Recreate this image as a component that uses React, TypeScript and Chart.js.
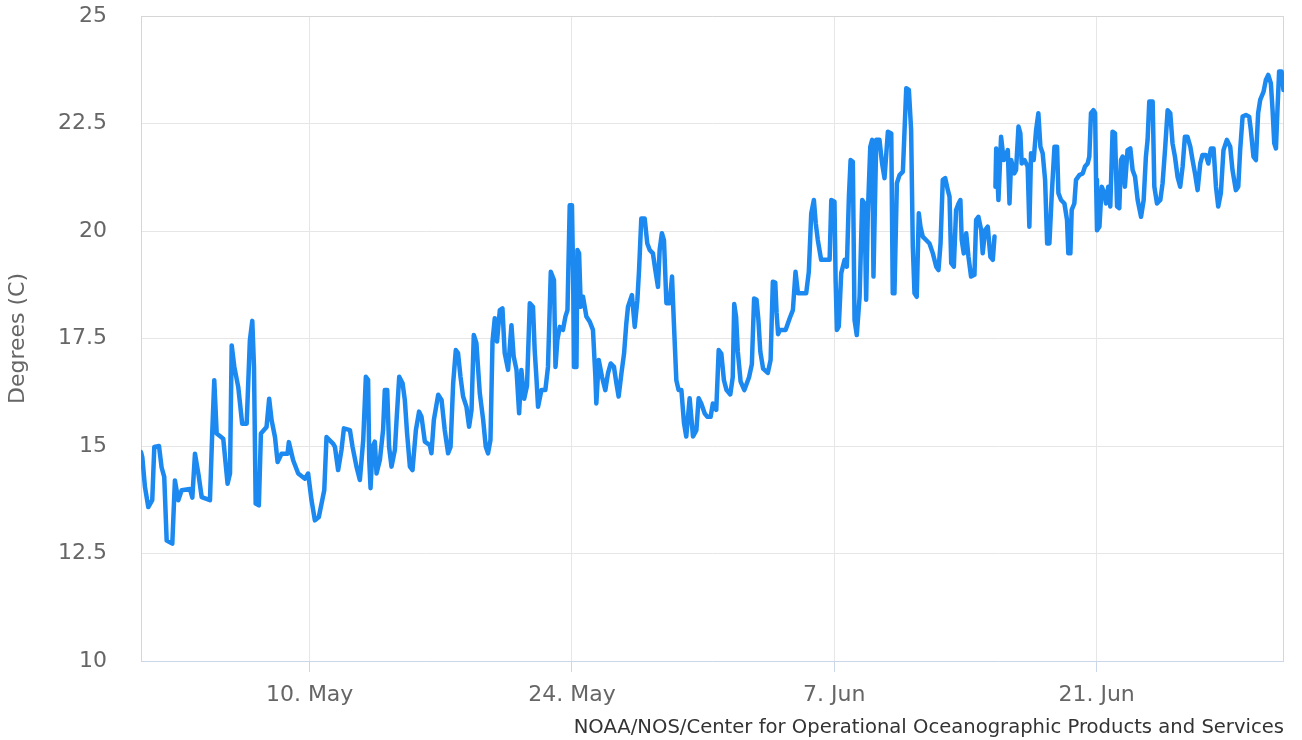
import { useEffect, useRef } from "react";
import { Chart, registerables } from "chart.js";

Chart.register(...registerables);

// Days since 1 May (00:00)
const dayOffsets: number[] = [
  0.0, 0.07, 0.21, 0.39, 0.6, 0.71, 0.96, 1.1, 1.24, 1.37, 1.67, 1.81, 1.99, 2.17, 2.61, 2.74, 2.88, 3.06, 3.24, 3.68,
  3.8, 3.91, 4.04, 4.39, 4.62, 4.75, 4.84, 4.98, 5.19, 5.4, 5.64, 5.81, 5.94, 6.03, 6.12, 6.29, 6.4, 6.7, 6.84, 6.97,
  7.15, 7.29, 7.5, 7.82, 7.89, 8.12, 8.39, 8.75, 8.92, 9.1, 9.28, 9.49, 9.78, 9.9, 10.26,
  10.35, 10.52, 10.7, 10.83, 11.15, 11.29, 11.5, 11.68, 11.86, 12.0, 12.12, 12.18, 12.25, 12.36, 12.48, 12.57, 12.75,
  12.92, 13.01, 13.14, 13.24, 13.37, 13.55, 13.64, 13.78, 13.96, 14.08, 14.2, 14.35, 14.49, 14.67, 14.84, 14.97, 15.15,
  15.41, 15.5, 15.63, 15.86, 16.04, 16.21, 16.39, 16.52, 16.66, 16.8, 16.92, 17.05, 17.19, 17.37, 17.51, 17.64, 17.76,
  17.9, 18.08, 18.26, 18.4, 18.52, 18.65, 18.76, 18.88, 19.0, 19.15, 19.29, 19.41, 19.59, 19.77, 19.89, 20.04, 20.18,
  20.3, 20.45, 20.6, 20.75, 20.92, 21.01, 21.1, 21.19, 21.37, 21.58, 21.72, 21.87, 22.04, 22.12, 22.22, 22.35, 22.52,
  22.65, 22.76, 22.88, 23.0, 23.06, 23.11, 23.24, 23.29, 23.38, 23.47, 23.59, 23.77, 23.95, 24.12, 24.25, 24.3, 24.43,
  24.6, 24.78, 24.92, 25.07, 25.24, 25.37, 25.49, 25.64, 25.78, 25.9, 25.99, 26.2, 26.35, 26.49, 26.58, 26.7, 26.88,
  27.02, 27.15, 27.32, 27.45, 27.59, 27.68, 27.8, 27.91, 28.04, 28.21, 28.34, 28.44, 28.57, 28.69, 28.84, 28.98, 29.1,
  29.28, 29.46, 29.64, 29.76, 29.9, 30.08, 30.22, 30.4, 30.52, 30.7, 30.83, 30.97, 31.11,
  31.25, 31.45, 31.58, 31.66, 31.76, 31.85, 32.0, 32.2, 32.45, 32.6, 32.72, 32.85, 32.95, 33.05, 33.2, 33.45, 33.6,
  33.72, 33.85, 33.92, 34.0, 34.1, 34.4, 34.62, 34.79, 34.93, 35.06, 35.5, 35.64, 35.77, 35.91, 36.01, 36.12, 36.3,
  36.75, 36.84, 37.01, 37.07, 37.14, 37.24, 37.37, 37.55, 37.67, 37.78, 37.87, 37.99, 38.08, 38.2, 38.35, 38.49, 38.61,
  38.7, 38.79, 38.92, 39.02, 39.09, 39.24, 39.41, 39.55, 39.68, 39.86, 40.04, 40.12, 40.21, 40.34, 40.48, 40.66, 40.75,
  40.84, 40.98, 41.1, 41.19, 41.28, 41.4, 41.51,
  41.6, 41.72, 41.9, 42.08, 42.26, 42.44, 42.56, 42.67, 42.79, 42.92, 43.06, 43.15, 43.24, 43.38, 43.5, 43.63, 43.73,
  43.8, 43.91, 44.04, 44.16, 44.3, 44.48, 44.57, 44.69, 44.84, 44.92, 45.05, 45.19, 45.33, 45.46, 45.55, 45.57,
  45.6, 45.64, 45.76, 45.9, 46.04, 46.26, 46.35, 46.44, 46.61, 46.7, 46.83, 46.93, 47.0, 47.15, 47.32, 47.41, 47.5,
  47.64, 47.77, 47.89, 48.0, 48.12, 48.25, 48.36, 48.48, 48.6, 48.75, 48.89, 48.96, 49.1, 49.28, 49.42, 49.49, 49.6,
  49.67, 49.81, 49.9, 50.08, 50.26, 50.38, 50.52, 50.61, 50.7, 50.83, 50.92, 50.97, 51.02, 51.15, 51.27, 51.41,
  51.5, 51.62, 51.73, 51.85, 51.98, 52.09, 52.21, 52.3, 52.39, 52.51, 52.65, 52.8, 52.92, 53.05, 53.19, 53.37, 53.51,
  53.63, 53.72, 53.81, 53.99, 54.08, 54.22, 54.4, 54.52, 54.65, 54.79, 54.93, 55.05, 55.18, 55.32, 55.46, 55.59, 55.71,
  55.85, 56.0, 56.12, 56.25, 56.39, 56.53, 56.65, 56.83, 56.96, 57.1, 57.24, 57.37, 57.49, 57.63, 57.77, 57.95, 58.13,
  58.25, 58.43, 58.56, 58.66, 58.79, 58.97, 59.14, 59.23, 59.37, 59.5, 59.62, 59.73, 59.91, 60.03, 60.16, 60.3, 60.39,
  60.48, 60.57, 60.65, 60.74, 60.87, 60.97,
];

// Water temperature, degrees C (null = missing data)
const temps: (number | null)[] = [
  14.86, 14.74, 14.05, 13.58, 13.74, 14.98, 15.0, 14.5, 14.28, 12.8, 12.73, 14.2, 13.74, 13.97, 14.0, 13.8, 14.82, 14.36, 13.81, 13.74,
  15.29, 16.53, 15.29, 15.17, 14.12, 14.36, 17.34, 16.84, 16.37, 15.52, 15.52, 17.46, 17.91, 16.84, 13.66, 13.62, 15.29, 15.44, 16.1, 15.6,
  15.21, 14.63, 14.82, 14.82, 15.09, 14.67, 14.36, 14.24, 14.36, 13.74, 13.27, 13.35, 13.97, 15.21, 15.05,
  14.98, 14.44, 14.91, 15.41, 15.37, 14.98, 14.52, 14.21, 15.14, 16.61, 16.54, 14.68, 14.02, 14.98, 15.1, 14.36, 14.68,
  15.37, 16.3, 16.3, 14.98, 14.52, 14.91, 15.61, 16.61, 16.46, 16.07, 15.3, 14.52, 14.44, 15.37, 15.8, 15.68, 15.1,
  15.02, 14.83, 15.61, 16.19, 16.07, 15.37, 14.83, 14.98, 16.46, 17.23, 17.16, 16.61, 16.15, 15.91, 15.45, 15.84, 17.58,
  17.39, 16.23, 15.61, 14.98, 14.83, 15.14, 17.43, 17.97, 17.43, 18.16, 18.2, 17.16, 16.77, 17.81, 17.08, 16.77, 15.76,
  16.77, 16.1, 16.4, 18.32, 18.24, 17.23, 16.61, 15.91, 16.3, 16.3, 16.84, 19.05, 18.86, 16.84, 17.46, 17.77, 17.7,
  18.01, 18.16, 20.6, 20.6, 19.02, 16.84, 16.84, 19.56, 19.48, 18.24, 18.47, 18.01, 17.89, 17.7, 16.61, 15.99, 17.0,
  16.61, 16.3, 16.69, 16.92, 16.84, 16.46, 16.15, 16.69, 17.15, 17.85, 18.24, 18.51, 17.77, 18.39, 19.09, 20.29, 20.29,
  19.71, 19.56, 19.48, 19.09, 18.7, 19.56, 19.95, 19.79, 18.32, 18.32, 18.94, 17.85, 16.53, 16.3, 16.3, 15.53, 15.22,
  16.11, 15.22, 15.37, 16.11, 15.99, 15.76, 15.68, 15.68, 15.99, 15.84, 17.23, 17.15, 16.53,
  16.3, 16.2, 16.6, 18.3, 18.0, 17.2, 16.5, 16.3, 16.6, 16.9, 18.43, 18.4, 17.93, 17.2, 16.8, 16.7, 17.0,
  18.82, 18.8, 18.1, 17.6, 17.7, 17.7, 17.97, 18.16, 19.05, 18.55, 18.55, 19.05, 20.41, 20.72, 20.18, 19.79, 19.33,
  19.33, 20.72, 20.68, 18.86, 17.7, 17.78, 19.02, 19.33, 19.17, 20.8, 21.65, 21.61, 17.93, 17.58, 18.47, 20.72, 20.64,
  18.4, 20.41, 21.96, 22.12, 18.94, 22.12, 22.12, 21.57, 21.23, 22.31, 22.27, 18.55, 18.55, 21.11, 21.3, 21.38, 22.35,
  23.32, 23.28, 22.35, 19.64, 18.55, 18.47, 20.41,
  20.1, 19.87, 19.79, 19.71, 19.48, 19.17, 19.09, 19.71, 21.19, 21.23, 20.95, 20.8, 19.25, 19.17, 20.49, 20.64, 20.72,
  19.79, 19.48, 19.95, 19.4, 18.94, 18.98, 20.26, 20.33, 20.02, 19.48, 20.02, 20.1, 19.4, 19.33, 19.87, null,
  21.03, 21.92, 20.72, 22.19, 21.65, 21.88, 20.64, 21.65, 21.34, 21.42, 22.43, 22.27, 21.57, 21.65, 21.5, 20.1, 21.81,
  21.65, 22.35, 22.74, 21.96, 21.81, 21.19, 19.71, 19.71, 20.8, 21.96, 21.96, 20.88, 20.72, 20.64, 20.26, 19.48, 19.48,
  20.49, 20.64, 21.19, 21.3, 21.34, 21.5, 21.57, 21.73, 22.74, 22.81, 22.74, 21.19, 20.02, 20.1, 21.03, 20.88,
  20.64, 21.03, 20.57, 22.31, 22.27, 20.57, 20.53, 21.65, 21.73, 21.03, 21.88, 21.92, 21.42, 21.26, 20.72, 20.33, 20.72,
  21.73, 22.12, 23.01, 23.01, 21.03, 20.64, 20.72, 21.11, 21.88, 22.81, 22.74, 22.04, 21.73, 21.26, 21.03, 21.5, 22.19,
  22.19, 21.96, 21.65, 21.34, 20.95, 21.57, 21.77, 21.77, 21.57, 21.92, 21.92, 21.03, 20.57, 20.88, 21.88, 22.12, 21.96,
  21.42, 20.95, 21.03, 21.88, 22.66, 22.7, 22.66, 22.35, 21.73, 21.65, 22.74, 23.05, 23.24, 23.51, 23.63, 23.43, 22.81,
  22.04, 21.92, 22.81, 23.71, 23.71, 23.28,
];

const xTickDays = [9, 23, 37, 51];
const xTickLabels = ["10. May", "24. May", "7. Jun", "21. Jun"];
const yTickValues = [10, 12.5, 15, 17.5, 20, 22.5, 25];
const yAxisTitle = "Degrees (C)";
const creditsText = "NOAA/NOS/Center for Operational Oceanographic Products and Services";

export default function App() {
  const ref = useRef<HTMLCanvasElement>(null);

  useEffect(() => {
    const points = dayOffsets.map((d, i) => ({ x: d, y: temps[i] }));

    const framePlugin = {
      id: "frame",
      beforeDatasetsDraw(chart: any) {
        const { ctx, chartArea } = chart;
        const { left, right, top, bottom } = chartArea;
        ctx.save();
        ctx.lineWidth = 1;
        ctx.strokeStyle = "#d6d6d6";
        ctx.beginPath();
        ctx.moveTo(left + 0.5, top);
        ctx.lineTo(left + 0.5, bottom);
        ctx.moveTo(right - 0.5, top);
        ctx.lineTo(right - 0.5, bottom);
        ctx.moveTo(left, top + 0.5);
        ctx.lineTo(right, top + 0.5);
        ctx.stroke();
        ctx.strokeStyle = "#ccd6eb";
        ctx.beginPath();
        ctx.moveTo(left, bottom + 0.5);
        ctx.lineTo(right, bottom + 0.5);
        ctx.stroke();
        ctx.restore();
      },
    };

    const creditsPlugin = {
      id: "credits",
      afterDraw(chart: any) {
        const { ctx, chartArea } = chart;
        ctx.save();
        ctx.font = '19.6px "DejaVu Sans"';
        ctx.fillStyle = "#333333";
        ctx.textAlign = "right";
        ctx.textBaseline = "alphabetic";
        ctx.fillText(creditsText, chartArea.right, 733);
        ctx.restore();
      },
    };

    const chart = new Chart(ref.current!, {
      type: "line",
      data: {
        datasets: [
          {
            data: points as any,
            borderColor: "#1c89f0",
            backgroundColor: "#1c89f0",
            borderWidth: 4.5,
            pointRadius: 0,
            tension: 0,
            spanGaps: false,
            borderJoinStyle: "round",
            borderCapStyle: "round",
          },
        ],
      },
      options: {
        animation: false,
        responsive: false,
        maintainAspectRatio: false,
        layout: { padding: { top: 16, right: 18, bottom: 0, left: 0 } },
        plugins: {
          legend: { display: false },
          tooltip: { enabled: false },
        },
        scales: {
          x: {
            type: "linear",
            min: 0,
            max: 61,
            afterBuildTicks: (s: any) => {
              s.ticks = xTickDays.map((v) => ({ value: v }));
            },
            afterFit: (s: any) => {
              s.height = 79;
              s.paddingLeft = 0;
              s.paddingRight = 0;
            },
            ticks: {
              autoSkip: false,
              maxRotation: 0,
              padding: 10,
              color: "#666666",
              font: { family: "DejaVu Sans", size: 22 },
              callback: (v: any) => {
                const i = xTickDays.indexOf(Number(v));
                return i >= 0 ? xTickLabels[i] : "";
              },
            },
            grid: {
              color: "#e6e6e6",
              tickColor: "#ccd6eb",
              tickLength: 11,
              drawTicks: true,
            },
            border: { display: false },
          },
          y: {
            type: "linear",
            min: 10,
            max: 25,
            afterBuildTicks: (s: any) => {
              s.ticks = yTickValues.map((v) => ({ value: v }));
            },
            afterFit: (s: any) => {
              s.width = 141;
              s.paddingTop = 0;
              s.paddingBottom = 0;
            },
            ticks: {
              padding: 34,
              color: "#666666",
              font: { family: "DejaVu Sans", size: 22 },
            },
            grid: { color: "#e6e6e6", drawTicks: false },
            border: { display: false },
            title: {
              display: true,
              text: yAxisTitle,
              color: "#666666",
              font: { family: "DejaVu Sans", size: 22 },
              padding: { top: 5, bottom: 0 },
            },
          },
        },
      },
      plugins: [framePlugin, creditsPlugin],
    });

    return () => chart.destroy();
  }, []);

  return (
    <div style={{ position: "fixed", left: 0, top: 0, width: 1302, height: 740, background: "#ffffff" }}>
      <canvas ref={ref} width={1302} height={740} style={{ width: 1302, height: 740, display: "block" }} />
    </div>
  );
}
